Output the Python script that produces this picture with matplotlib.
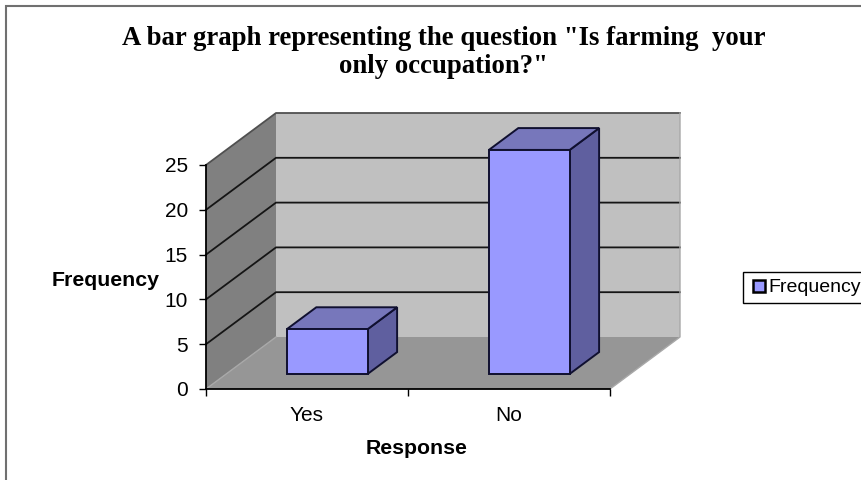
#!/usr/bin/env python3

import matplotlib
matplotlib.use("Agg")
import matplotlib.pyplot as plt
from matplotlib.lines import Line2D
from matplotlib.patches import Rectangle

# values
categories = ["Yes", "No"]
frequency = [5, 25]
y_ticks = [0, 5, 10, 15, 20, 25]
title = 'A bar graph representing the question "Is farming  your\nonly occupation?"'

W, H = 862, 480
bar_width = 0.4
# how far one unit of depth shifts things, in data units
depth_x = 70 / 202
depth_y = 52 / 8.96


def project(x, y, d):
    return x + d * depth_x, y + d * depth_y


def face(ax, corners, color, edge="none", z=2, lw=1.4):
    pts = [project(*c) for c in corners]
    ax.fill([p[0] for p in pts], [p[1] for p in pts], facecolor=color,
            edgecolor=edge, linewidth=lw, zorder=z, clip_on=False)


plt.rcParams["font.family"] = ["Liberation Sans", "DejaVu Sans"]
fig = plt.figure(figsize=(W / 100, H / 100), dpi=100)

# frame round the whole chart
fig.add_artist(Rectangle((6 / W, -0.1), 1.1, (480 - 6) / H + 0.1, transform=fig.transFigure,
                         facecolor="white", edgecolor="#707070", linewidth=1.5, zorder=-5))

ax = fig.add_axes([206 / W, (H - 389) / H, 404 / W, 224 / H])
ax.set_xlim(-0.5, 1.5)
ax.set_ylim(0, 25)
ax.patch.set_visible(False)
ax.spines[["top", "right"]].set_visible(False)
ax.spines[["left", "bottom"]].set_linewidth(1.3)

x0, x1 = -0.5, 1.5
y0, y1 = y_ticks[0], y_ticks[-1]

# walls and floor
face(ax, [(x0, y0, 1), (x1, y0, 1), (x1, y1, 1), (x0, y1, 1)], "#C0C0C0", z=0)
face(ax, [(x0, y0, 0), (x0, y0, 1), (x0, y1, 1), (x0, y1, 0)], "#808080", z=0)
face(ax, [(x0, y0, 0), (x1, y0, 0), (x1, y0, 1), (x0, y0, 1)], "#969696", z=0)

# grid lines run along side wall and back wall
for t in y_ticks[1:]:
    pts = [project(x0, t, 0), project(x0, t, 1), project(x1, t, 1)]
    ax.plot([p[0] for p in pts], [p[1] for p in pts], color="#151515" if t < y1 else "#505050",
            lw=1.3, zorder=1, clip_on=False)
pts = [project(x1, y0, 0), project(x1, y0, 1), project(x1, y1, 1)]
ax.plot([p[0] for p in pts], [p[1] for p in pts], color="#A8A8A8", lw=1, zorder=1, clip_on=False)
pts = [project(x0, y0, 0), project(x0, y0, 1)]
ax.plot([p[0] for p in pts], [p[1] for p in pts], color="#A8A8A8", lw=1, zorder=1, clip_on=False)

# bars
d0, d1 = 0.29, 0.71
for i, v in enumerate(frequency):
    a, b = i - bar_width / 2, i + bar_width / 2
    face(ax, [(b, 0, d0), (b, 0, d1), (b, v, d1), (b, v, d0)], "#5F5F9F", "#101030", z=3)
    face(ax, [(a, v, d0), (b, v, d0), (b, v, d1), (a, v, d1)], "#7777BB", "#101030", z=3)
    face(ax, [(a, 0, d0), (b, 0, d0), (b, v, d0), (a, v, d0)], "#9999FF", "#101030", z=4)

ax.set_yticks(y_ticks)
ax.set_xticks([-0.5, 0.5, 1.5])
ax.set_xticklabels([])
ax.set_xticks(range(len(categories)), categories, minor=True)
ax.tick_params(axis="x", which="minor", length=0, labelsize=15, pad=12)
ax.tick_params(axis="x", which="major", length=5, width=1)
ax.tick_params(axis="y", length=5, width=1, labelsize=15, pad=8)

fig.text(444 / W, 1 - 52.5 / H, title, ha="center", va="center", family="Liberation Serif",
         fontweight="bold", fontsize=19.3, linespacing=1.2)
fig.text(106 / W, 1 - 281 / H, "Frequency", ha="center", va="center", fontweight="bold", fontsize=15.3)
fig.text(417 / W, 1 - 449 / H, "Response", ha="center", va="center", fontweight="bold", fontsize=15.3)

handle = Line2D([], [], linestyle="none", marker="s", markersize=8, markerfacecolor="#9999FF",
                markeredgecolor="black", markeredgewidth=1.8)
fig.legend([handle], ["Frequency"], loc="center left", bbox_to_anchor=(743 / W, 1 - 287.5 / H),
           fontsize=14, fancybox=False, edgecolor="black", framealpha=1, borderaxespad=0,
           handlelength=0.95, handletextpad=0.0, borderpad=0.35)

fig.savefig("out.png", dpi=100)
